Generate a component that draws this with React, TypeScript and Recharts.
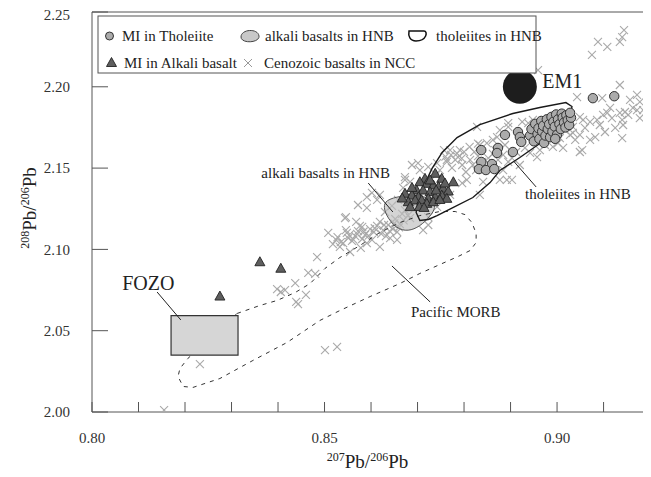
import React from "react"
import { ScatterChart, Scatter, XAxis, YAxis, ReferenceLine } from "recharts"

const FONT = "Liberation Serif, Times New Roman, DejaVu Serif, serif"

// axis ticks (x = 207Pb/206Pb, y = 208Pb/206Pb)
const xTicks = [0.8, 0.81, 0.82, 0.83, 0.84, 0.85, 0.86, 0.87, 0.88, 0.89, 0.9, 0.91]
const xTickLabels = ["0.80", "", "", "", "", "0.85", "", "", "", "", "0.90", ""]
const yTicks = [2.0, 2.05, 2.1, 2.15, 2.2, 2.246]
const yTickLabels = ["2.00", "2.05", "2.10", "2.15", "2.20", "2.25"]

// MI in Tholeiite
const tholeiiteMI = [
    [0.8837, 2.1611], [0.8873, 2.1624], [0.8871, 2.1593], [0.8837, 2.1538], [0.886, 2.1525],
    [0.8832, 2.1494], [0.8847, 2.1488], [0.8865, 2.1494], [0.8888, 2.1704], [0.8905, 2.1599],
    [0.8916, 2.1722], [0.892, 2.1691], [0.8923, 2.1661],
    [0.8942, 2.17], [0.8945, 2.174], [0.895, 2.1665], [0.8953, 2.1772], [0.8958, 2.171],
    [0.896, 2.1745], [0.8962, 2.168], [0.8966, 2.179], [0.8968, 2.1725], [0.897, 2.176],
    [0.8972, 2.1655], [0.8975, 2.17], [0.8978, 2.18], [0.898, 2.174], [0.8983, 2.177],
    [0.8985, 2.169], [0.8988, 2.1815], [0.899, 2.1725], [0.8992, 2.1785], [0.8995, 2.1755],
    [0.8998, 2.183], [0.9, 2.1705], [0.9002, 2.18], [0.9005, 2.177], [0.9008, 2.174],
    [0.901, 2.1835], [0.9012, 2.181], [0.9015, 2.178], [0.9018, 2.175], [0.902, 2.1825],
    [0.9023, 2.1795], [0.9026, 2.1765], [0.903, 2.181], [0.9028, 2.184], [0.8996, 2.168],
    [0.9077, 2.193], [0.9123, 2.1942],
]

// MI in Alkali basalt
const alkaliMI = [
    [0.8738, 2.1465], [0.8716, 2.1434], [0.8705, 2.1413], [0.872, 2.1403], [0.8752, 2.1434],
    [0.8777, 2.1413], [0.8734, 2.1393], [0.8745, 2.1383], [0.8755, 2.1373], [0.8766, 2.1356],
    [0.8698, 2.1362], [0.8712, 2.1362], [0.8727, 2.1352], [0.8673, 2.1342], [0.8688, 2.1331],
    [0.8702, 2.1321], [0.8723, 2.1311], [0.8738, 2.1321], [0.8752, 2.1331], [0.8763, 2.1311],
    [0.868, 2.129], [0.8695, 2.1301], [0.8709, 2.1301], [0.872, 2.128], [0.8734, 2.129],
    [0.8684, 2.126], [0.8667, 2.1313], [0.8704, 2.1261], [0.874, 2.1362], [0.8727, 2.1424],
    [0.8759, 2.1405], [0.8688, 2.1378], [0.8748, 2.1304], [0.8714, 2.1255],
    [0.8361, 2.0921], [0.8406, 2.0881], [0.8275, 2.071],
]

// Cenozoic basalts in NCC
const nccBasalts = [
    [0.8155, 2.0012], [0.8232, 2.0295], [0.8398, 2.0756], [0.8406, 2.0738], [0.8415, 2.075],
    [0.8439, 2.0677], [0.8443, 2.0664], [0.8437, 2.0793], [0.846, 2.072], [0.8465, 2.0855],
    [0.848, 2.0849], [0.8484, 2.0953], [0.8508, 2.1101], [0.8518, 2.1033], [0.8501, 2.0381],
    [0.8527, 2.04], [0.8525, 2.1058], [0.8533, 2.1015], [0.854, 2.1039], [0.8546, 2.1119],
    [0.8544, 2.1193], [0.8548, 2.1101], [0.8551, 2.107], [0.8559, 2.1052], [0.8566, 2.1082],
    [0.8572, 2.1113], [0.8576, 2.1144], [0.8581, 2.1064], [0.8587, 2.1089], [0.8591, 2.1039],
    [0.8598, 2.1125], [0.8602, 2.1058], [0.8606, 2.1107], [0.8613, 2.1144], [0.8619, 2.1015],
    [0.8619, 2.1169], [0.8626, 2.1119], [0.8632, 2.1082], [0.8637, 2.115], [0.8641, 2.107],
    [0.8647, 2.1125], [0.8652, 2.1187], [0.8656, 2.1107], [0.8656, 2.1058], [0.8662, 2.1156],
    [0.8667, 2.1218], [0.8673, 2.1242], [0.8669, 2.1378], [0.8673, 2.1427], [0.8572, 2.1273],
    [0.8591, 2.1255], [0.8613, 2.1304], [0.8619, 2.1335], [0.8591, 2.1322], [0.8602, 2.1347],
    [0.8546, 2.1199], [0.8581, 2.1138], [0.8684, 2.1193], [0.8692, 2.1273], [0.8568, 2.1169],
    [0.863, 2.123], [0.8645, 2.1267], [0.8658, 2.1304], [0.8677, 2.1328], [0.8555, 2.0984],
    [0.8578, 2.1009], [0.8535, 2.1045], [0.8553, 2.1088], [0.8562, 2.106], [0.857, 2.1095],
    [0.8584, 2.111], [0.8595, 2.1085], [0.8608, 2.113], [0.8622, 2.1095], [0.8628, 2.115],
    [0.864, 2.1112], [0.865, 2.116], [0.866, 2.1135], [0.867, 2.1178], [0.868, 2.121],
    [0.8528, 2.1075],
    [0.8673, 2.1445], [0.8684, 2.1415], [0.8688, 2.1519], [0.8701, 2.1531], [0.8723, 2.1507],
    [0.8742, 2.1531], [0.8763, 2.155], [0.8781, 2.155], [0.8787, 2.1568], [0.8791, 2.1611],
    [0.8712, 2.1119], [0.8723, 2.115], [0.8723, 2.1199], [0.8742, 2.1261], [0.877, 2.1335],
    [0.8834, 2.1335], [0.8705, 2.1488], [0.8748, 2.1488], [0.8774, 2.1501], [0.8796, 2.1519],
    [0.8804, 2.1476], [0.8796, 2.1408], [0.8806, 2.1427], [0.8813, 2.155], [0.8819, 2.1519],
    [0.8826, 2.1488], [0.883, 2.1574], [0.8839, 2.1538], [0.8845, 2.1501], [0.8852, 2.1562],
    [0.8856, 2.1519], [0.8862, 2.1587], [0.8772, 2.1581], [0.8763, 2.1538], [0.8757, 2.1611],
    [0.874, 2.1458], [0.877, 2.161], [0.8785, 2.159], [0.88, 2.16], [0.8812, 2.163],
    [0.8822, 2.16], [0.8795, 2.156], [0.876, 2.157], [0.883, 2.165],
    [0.8834, 2.1642], [0.8849, 2.1654], [0.8862, 2.1673], [0.8871, 2.1691], [0.8828, 2.1753],
    [0.8877, 2.1734], [0.8895, 2.1753], [0.8895, 2.1777], [0.8925, 2.1784], [0.8938, 2.1777],
    [0.8948, 2.1796], [0.8963, 2.1611], [0.8991, 2.163], [0.9002, 2.1654], [0.8957, 2.1568],
    [0.8903, 2.1427], [0.8892, 2.1427], [0.8841, 2.1415], [0.8877, 2.1427], [0.8873, 2.155],
    [0.8884, 2.1581], [0.8895, 2.1538], [0.8903, 2.1562], [0.8912, 2.1599], [0.8888, 2.1642],
    [0.8931, 2.1624], [0.8942, 2.1593], [0.8974, 2.1642], [0.8985, 2.1673], [0.8981, 2.1722],
    [0.9006, 2.1685], [0.9017, 2.1734], [0.9028, 2.1704], [0.9013, 2.1624], [0.9039, 2.1673],
    [0.9049, 2.1599], [0.8867, 2.1611], [0.8884, 2.1488], [0.892, 2.1519],
    [0.8959, 2.2103], [0.9043, 2.1937], [0.9097, 2.1931], [0.9135, 2.2011], [0.9172, 2.195],
    [0.9178, 2.1907], [0.9194, 2.1888], [0.9172, 2.1857], [0.9135, 2.1839], [0.914, 2.1796],
    [0.9142, 2.1765], [0.9086, 2.1796], [0.9099, 2.1827], [0.9108, 2.1839], [0.9049, 2.1814],
    [0.9056, 2.1796], [0.9034, 2.1753], [0.9082, 2.1691], [0.914, 2.1685], [0.9054, 2.1611],
    [0.9071, 2.1784], [0.9146, 2.1845], [0.9163, 2.187], [0.9185, 2.1857], [0.9034, 2.1716],
    [0.9049, 2.1704], [0.9088, 2.2276], [0.9108, 2.2245], [0.9135, 2.2276], [0.914, 2.2306],
    [0.9144, 2.2349], [0.9075, 2.2196], [0.906, 2.1747], [0.9092, 2.1765], [0.9118, 2.1808],
    [0.9153, 2.1827], [0.9125, 2.1747], [0.9071, 2.1673], [0.9103, 2.1722], [0.9178, 2.1808],
    [0.9157, 2.1919], [0.9114, 2.187],
]

// end members and fields
const em1 = [[0.892, 2.2]]
const fozoBox = [[0.817, 2.035], [0.8314, 2.035], [0.8314, 2.0593], [0.817, 2.0593]]
const alkaliField = [
    [0.8626, 2.1276], [0.8632, 2.1208], [0.8654, 2.1128], [0.868, 2.111], [0.8705, 2.1141],
    [0.8727, 2.1202], [0.874, 2.1258], [0.8731, 2.1313], [0.8695, 2.1338], [0.8658, 2.1325],
    [0.8637, 2.1307],
]
const tholeiiteField = [
    [0.8705, 2.1178], [0.8697, 2.1227], [0.8701, 2.1301], [0.8714, 2.1393], [0.8731, 2.1497],
    [0.8753, 2.1596], [0.8785, 2.1688], [0.8834, 2.1768], [0.8905, 2.1836], [0.8963, 2.1873],
    [0.9019, 2.1903], [0.9032, 2.1879], [0.9028, 2.1805], [0.9, 2.1725], [0.8963, 2.1651],
    [0.892, 2.1565], [0.8877, 2.1485], [0.8856, 2.1411], [0.8819, 2.1319], [0.8776, 2.1257],
    [0.8742, 2.1208], [0.8723, 2.1184],
]
const morbField = [
    [0.8312, 2.0606], [0.8361, 2.0655], [0.8398, 2.0686], [0.8437, 2.0735], [0.8469, 2.079],
    [0.8501, 2.0883], [0.8533, 2.095], [0.8576, 2.1024], [0.8619, 2.1104], [0.8662, 2.1165],
    [0.8705, 2.1208], [0.8748, 2.1233], [0.8781, 2.1233], [0.8802, 2.1214], [0.8817, 2.1165],
    [0.8826, 2.1098], [0.8826, 2.1042], [0.8813, 2.0993], [0.8787, 2.0956], [0.8748, 2.0907],
    [0.8705, 2.0852], [0.8662, 2.079], [0.8598, 2.071], [0.8533, 2.0624], [0.849, 2.0563],
    [0.8419, 2.0427], [0.8346, 2.0317], [0.8275, 2.0206], [0.8217, 2.0151], [0.8196, 2.0157],
    [0.8185, 2.0218], [0.8189, 2.0267], [0.8206, 2.0329],
]

// annotations
const notes = [
    { text: "FOZO", x: 0.8065, y: 2.075 },
    { text: "EM1", x: 0.8968, y: 2.1993 },
    { text: "alkali basalts in HNB", x: 0.8641, y: 2.1439 },
    { text: "tholeiites in HNB", x: 0.8931, y: 2.131 },
    { text: "Pacific MORB", x: 0.8686, y: 2.0584 },
]
const leaders = [
    [[0.814, 2.0738], [0.8191, 2.0566]],
    [[0.8594, 2.1408], [0.8647, 2.123]],
    [[0.8908, 2.1538], [0.8955, 2.1384]],
    [[0.8645, 2.0898], [0.8727, 2.0677]],
]

const pts = (arr: number[][]) => arr.map(([x, y]) => ({ x, y }))

const noteStyle: Record<string, { size: number; anchor: "start" | "end" }> = {
    FOZO: { size: 20, anchor: "start" },
    EM1: { size: 20, anchor: "start" },
    "alkali basalts in HNB": { size: 15, anchor: "end" },
    "tholeiites in HNB": { size: 15, anchor: "start" },
    "Pacific MORB": { size: 15, anchor: "start" },
}

const formatter = (ticks: number[], labels: string[]) => (v: number) => {
    const i = ticks.findIndex((t) => Math.abs(t - v) < 1e-6)
    return i >= 0 ? labels[i] : ""
}

const Nothing = () => <g />

const Cross = ({ cx, cy }: any) => (
    <path
        d={`M${cx - 4},${cy - 4}L${cx + 4},${cy + 4}M${cx - 4},${cy + 4}L${cx + 4},${cy - 4}`}
        stroke="#a9a9a9"
        strokeWidth={1.1}
        fill="none"
    />
)

const Dot = ({ cx, cy }: any) => <circle cx={cx} cy={cy} r={4.7} fill="#ababab" stroke="#333" strokeWidth={1} />

const Tri = ({ cx, cy }: any) => (
    <path d={`M${cx},${cy - 5.5}L${cx + 5},${cy + 3.5}L${cx - 5},${cy + 3.5}Z`} fill="#5e5e5e" stroke="#222" strokeWidth={0.9} />
)

const Em1Dot = ({ cx, cy }: any) => <circle cx={cx} cy={cy} r={17} fill="#1d1d1d" />

const Note = ({ cx, cy, payload }: any) => {
    const st = noteStyle[payload.text]
    return (
        <text x={cx} y={cy} fontSize={st.size} textAnchor={st.anchor} fontFamily={FONT} fill="#222">
            {payload.text}
        </text>
    )
}

// y tick: the top label sits just under the frame line
const YTick = ({ x, y, payload }: any) => {
    const label = formatter(yTicks, yTickLabels)(payload.value)
    const shift = Math.abs(payload.value - 2.246) < 1e-6 ? 3 : 0
    return (
        <text x={x} y={y + shift} dy="0.355em" textAnchor="end" fontSize={15} fontFamily={FONT} fill="#333">
            {label}
        </text>
    )
}

const XTitle = ({ viewBox }: any) => {
    const cx = viewBox.x + viewBox.width / 2 - 4
    return (
        <text x={cx} y={viewBox.y + 56} textAnchor="middle" fontFamily={FONT} fill="#222">
            <tspan fontSize={12} dy={-7}>207</tspan>
            <tspan fontSize={19} dy={7}>Pb/</tspan>
            <tspan fontSize={12} dy={-7}>206</tspan>
            <tspan fontSize={19} dy={7}>Pb</tspan>
        </text>
    )
}

const YTitle = ({ viewBox }: any) => {
    const cx = 28
    const cy = viewBox.y + viewBox.height / 2 - 4
    return (
        <text x={cx} y={cy} transform={`rotate(-90, ${cx}, ${cy})`} textAnchor="middle" fontFamily={FONT} fill="#222">
            <tspan fontSize={12} dy={-7}>208</tspan>
            <tspan fontSize={19} dy={7}>Pb/</tspan>
            <tspan fontSize={12} dy={-7}>206</tspan>
            <tspan fontSize={19} dy={7}>Pb</tspan>
        </text>
    )
}

function LegendBox() {
    const txt = { fontSize: 15, fontFamily: FONT, fill: "#222" }
    const r1 = 28
    const r2 = 55
    return (
        <svg width={643} height={469} style={{ position: "absolute", left: 0, top: 0, pointerEvents: "none" }}>
            <rect x={90} y={8} width={438} height={57} fill="#fff" stroke="#555" strokeWidth={1} />
            <circle cx={101.5} cy={r1} r={4} fill="#ababab" stroke="#333" />
            <text x={114} y={r1 + 5} {...txt}>MI in Tholeiite</text>
            <path d={`M233,${r1 + 1} C233,${r1 - 7} 250,${r1 - 8} 251,${r1} C252,${r1 + 7} 233,${r1 + 8} 233,${r1 + 1}Z`} fill="#c8c8c8" stroke="#444" strokeWidth={1} />
            <text x={257} y={r1 + 5} {...txt}>alkali basalts in HNB</text>
            <path d={`M401,${r1 - 5} L416,${r1 - 5} C420,${r1 - 5} 419,${r1 + 5} 408,${r1 + 5} C402,${r1 + 5} 400,${r1} 401,${r1 - 5}Z`} fill="none" stroke="#111" strokeWidth={1.5} />
            <text x={428} y={r1 + 5} {...txt}>tholeiites in HNB</text>
            <path d={`M${103.5},${r2 - 5.5}L${108.5},${r2 + 3.5}L${98.5},${r2 + 3.5}Z`} fill="#5e5e5e" stroke="#222" strokeWidth={0.9} />
            <text x={116} y={r2 + 5} {...txt}>MI in Alkali basalt</text>
            <path d={`M236,${r2 - 4}L244,${r2 + 4}M236,${r2 + 4}L244,${r2 - 4}`} stroke="#999" strokeWidth={1} />
            <text x={256} y={r2 + 5} {...txt}>Cenozoic basalts in NCC</text>
        </svg>
    )
}

export default function App() {
    return (
        <div style={{ position: "relative", width: 643, height: 469, fontFamily: FONT }}>
            <ScatterChart width={643} height={469} margin={{ top: 4, right: 0, bottom: 0, left: 0 }}>
                <XAxis
                    type="number"
                    dataKey="x"
                    domain={[0.8, 0.9202]}
                    allowDataOverflow
                    ticks={xTicks}
                    interval={0}
                    tickFormatter={formatter(xTicks, xTickLabels)}
                    tickSize={-10}
                    tickMargin={30}
                    height={65}
                    stroke="#555"
                    tick={{ fill: "#333", fontSize: 15, fontFamily: FONT }}
                    label={{ content: XTitle }}
                />
                <YAxis
                    type="number"
                    dataKey="y"
                    domain={[2.0, 2.246]}
                    allowDataOverflow
                    ticks={yTicks}
                    interval={0}
                    tickSize={-16}
                    tickMargin={38}
                    width={84}
                    stroke="#555"
                    tick={YTick}
                    label={{ content: YTitle }}
                />
                <ReferenceLine y={2.246} stroke="#555" ifOverflow="visible" />
                <Scatter data={pts(nccBasalts)} shape={Cross} isAnimationActive={false} />
                <Scatter
                    data={pts(alkaliField)}
                    line={{ stroke: "#555", strokeWidth: 1, fill: "#bdbdbd", fillOpacity: 0.65 }}
                    lineType="joint"
                    lineJointType="basisClosed"
                    shape={Nothing}
                    isAnimationActive={false}
                />
                <Scatter
                    data={pts(morbField)}
                    line={{ stroke: "#333", strokeWidth: 1, strokeDasharray: "4 5", fill: "none" }}
                    lineType="joint"
                    lineJointType="linearClosed"
                    shape={Nothing}
                    isAnimationActive={false}
                />
                <Scatter
                    data={pts(tholeiiteField)}
                    line={{ stroke: "#1a1a1a", strokeWidth: 1.4, fill: "none" }}
                    lineType="joint"
                    lineJointType="linearClosed"
                    shape={Nothing}
                    isAnimationActive={false}
                />
                <Scatter data={pts(tholeiiteMI)} shape={Dot} isAnimationActive={false} />
                <Scatter data={pts(alkaliMI)} shape={Tri} isAnimationActive={false} />
                <Scatter
                    data={pts(fozoBox)}
                    line={{ stroke: "#333", strokeWidth: 1.2, fill: "#d6d6d6" }}
                    lineType="joint"
                    lineJointType="linearClosed"
                    shape={Nothing}
                    isAnimationActive={false}
                />
                {leaders.map((seg, i) => (
                    <Scatter
                        key={`leader-${i}`}
                        data={pts(seg)}
                        line={{ stroke: "#222", strokeWidth: 1 }}
                        lineType="joint"
                        lineJointType="linear"
                        shape={Nothing}
                        isAnimationActive={false}
                    />
                ))}
                <Scatter data={pts(em1)} shape={Em1Dot} isAnimationActive={false} />
                <Scatter data={notes} shape={Note} isAnimationActive={false} />
            </ScatterChart>
            <LegendBox />
        </div>
    )
}
